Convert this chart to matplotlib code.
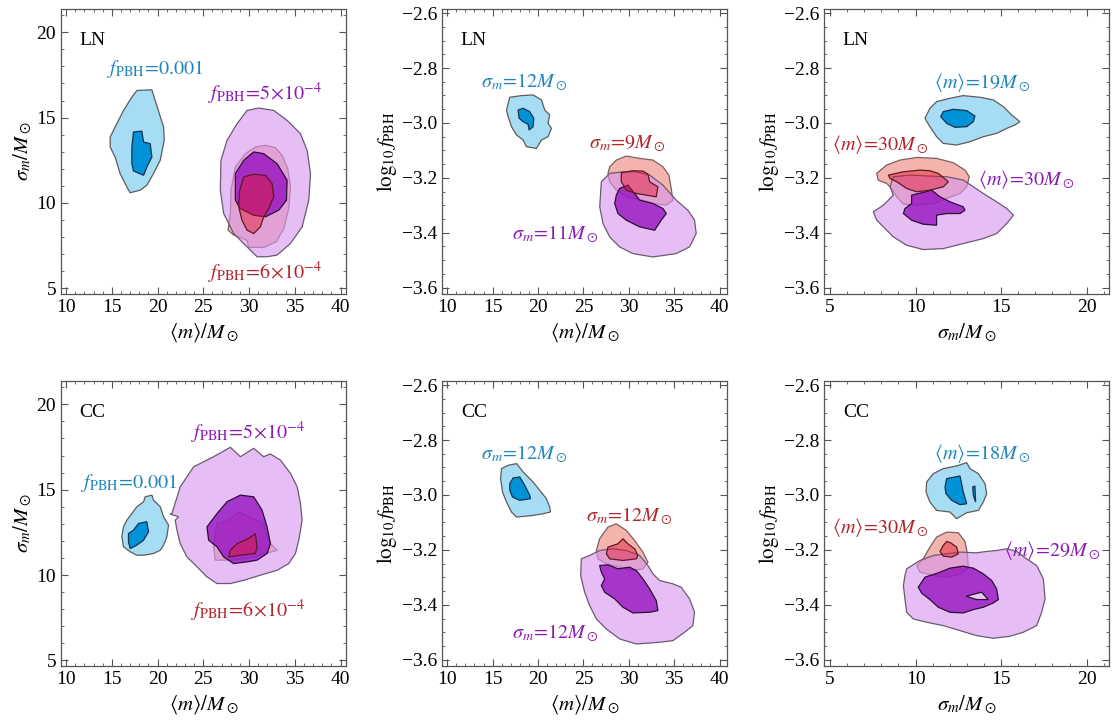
import matplotlib
matplotlib.use('Agg')
import matplotlib.pyplot as plt
from matplotlib.ticker import MultipleLocator

plt.rcParams['font.family'] = ['Liberation Serif', 'DejaVu Serif']
plt.rcParams['mathtext.fontset'] = 'stix'

# ---------------- data: credible-region outlines (x, y) ----------------
# LN, <m> vs sigma_m
LN_MS_blue_out = [(17.74,16.59),(19.38,16.63),(19.74,16.0),(20.66,14.45),(20.73,13.67),(20.29,12.5),(19.56,11.73),(18.83,11.04),(18.1,10.75),(17.0,10.6),(16.64,10.94),(15.91,11.72),(15.36,12.69),(14.82,13.28),(14.82,13.86),(15.36,14.45),(16.28,15.42),(17.19,16.2)]
LN_MS_blue_in = [(17.37,14.16),(18.28,14.21),(18.47,13.57),(19.2,13.47),(19.38,12.69),(18.83,12.11),(18.47,11.62),(17.37,11.88),(17.19,12.3),(17.19,13.28)]
LN_MS_red_out = [(31.79,13.38),(32.88,13.24),(33.61,12.79),(34.23,12.01),(34.53,10.94),(34.34,9.67),(33.8,8.51),(32.99,7.73),(31.6,7.4),(29.96,7.4),(29.78,7.82),(28.32,8.12),(27.7,8.41),(27.96,9.38),(28.03,10.75),(28.5,12.11),(29.6,12.89),(30.69,13.28)]
LN_MS_red_in = [(29.42,11.53),(30.51,11.68),(31.79,11.62),(32.52,11.14),(32.7,10.36),(32.15,9.67),(31.6,9.19),(31.24,8.6),(30.51,8.21),(29.78,8.41),(29.23,8.99),(28.87,9.77),(28.98,10.75)]
LN_MS_pur_out = [(29.78,15.42),(31.06,15.56),(32.7,15.42),(34.16,14.84),(35.62,14.06),(36.35,13.08),(36.72,11.72),(36.53,10.16),(35.8,8.6),(34.53,7.63),(33.07,6.95),(31.97,6.85),(30.88,6.85),(29.78,7.43),(28.32,8.21),(27.23,9.38),(26.86,10.75),(26.93,12.5),(27.59,13.67),(28.69,14.64)]
LN_MS_pur_in = [(29.42,12.5),(30.51,12.99),(31.6,12.89),(33.07,12.3),(34.16,11.33),(34.09,10.16),(33.25,9.58),(31.79,9.19),(30.51,9.28),(29.05,9.67),(28.5,10.16),(28.5,11.72)]

# LN, <m> vs log10 f
LN_MF_blue_out = [(16.89,-2.9066),(18.18,-2.9005),(19.46,-2.898),(20.38,-2.9163),(20.74,-2.9528),(21.29,-2.971),(21.11,-3.0015),(21.48,-3.0197),(21.11,-3.05),(20.38,-3.0623),(19.83,-3.0927),(18.73,-3.0866),(18.36,-3.0623),(17.63,-3.044),(17.08,-3.0136),(16.71,-2.9771),(16.53,-2.9528)]
LN_MF_blue_in = [(17.81,-2.9528),(18.36,-2.9467),(19.09,-2.9589),(19.53,-2.9832),(19.46,-3.0136),(19.02,-3.0258),(18.91,-3.0051),(18.36,-2.9954),(17.92,-2.9832)]
LN_MF_red_out = [(27.9,-3.1596),(28.63,-3.1353),(29.73,-3.1207),(31.2,-3.1292),(32.66,-3.1353),(33.76,-3.1596),(34.42,-3.19),(34.68,-3.2387),(34.86,-3.2813),(34.13,-3.2995),(32.66,-3.2934),(31.56,-3.2813),(29.73,-3.2691),(28.63,-3.2448),(27.9,-3.2143),(27.71,-3.1839)]
LN_MF_red_in = [(29.18,-3.1815),(30.46,-3.1742),(31.56,-3.1754),(32.11,-3.1864),(32.3,-3.2143),(33.21,-3.2326),(33.03,-3.2691),(31.93,-3.263),(30.83,-3.2569),(29.73,-3.2448),(29.18,-3.2143)]
LN_MF_pur_out = [(26.98,-3.2143),(27.9,-3.1839),(29.36,-3.1779),(30.83,-3.1779),(32.3,-3.19),(33.76,-3.2265),(35.23,-3.2813),(36.51,-3.3178),(37.25,-3.3543),(37.43,-3.4029),(36.7,-3.4516),(35.23,-3.4759),(32.66,-3.4881),(30.46,-3.4759),(28.99,-3.4516),(27.9,-3.4151),(27.16,-3.3664),(26.8,-3.3056)]
LN_MF_pur_in = [(28.99,-3.2387),(29.91,-3.2265),(30.65,-3.2569),(31.2,-3.2813),(32.66,-3.2934),(33.76,-3.3117),(34.13,-3.33),(33.58,-3.3543),(32.85,-3.3908),(31.2,-3.3786),(29.73,-3.3543),(28.81,-3.33),(28.45,-3.2934),(28.63,-3.263)]

# LN, sigma_m vs log10 f
LN_SF_blue_out = [(10.84,-2.9467),(11.23,-2.9224),(12.01,-2.9102),(12.79,-2.9005),(13.77,-2.9066),(14.55,-2.9163),(15.13,-2.9406),(15.62,-2.9711),(16.1,-2.9954),(15.81,-3.0076),(15.33,-3.0197),(14.74,-3.038),(13.96,-3.0501),(13.18,-3.0684),(12.4,-3.0805),(11.62,-3.0745),(11.23,-3.0501),(10.84,-3.0136),(10.55,-2.9832)]
LN_SF_blue_in = [(11.62,-2.9589),(12.21,-2.9504),(12.99,-2.9552),(13.47,-2.9747),(13.38,-2.9954),(12.99,-3.0136),(12.31,-3.0161),(11.82,-3.0015),(11.47,-2.9771)]
LN_SF_red_out = [(7.73,-3.1839),(8.31,-3.1535),(9.09,-3.1353),(10.07,-3.1256),(11.23,-3.1292),(12.21,-3.145),(12.89,-3.1718),(13.14,-3.1961),(12.99,-3.2326),(12.6,-3.2569),(11.82,-3.2752),(11.04,-3.2934),(10.07,-3.2995),(9.29,-3.2959),(8.9,-3.2691),(8.6,-3.2387),(8.31,-3.2204),(7.82,-3.2083)]
LN_SF_red_in = [(8.41,-3.19),(9.29,-3.1779),(10.26,-3.1718),(10.84,-3.1742),(11.33,-3.1839),(11.92,-3.2143),(11.62,-3.2326),(10.84,-3.2448),(10.07,-3.2509),(9.48,-3.2387),(8.9,-3.2143),(8.51,-3.2022)]
LN_SF_pur_out = [(7.53,-3.3239),(8.12,-3.2995),(8.7,-3.263),(8.51,-3.2326),(8.7,-3.1961),(9.68,-3.19),(10.84,-3.1937),(11.82,-3.1961),(12.79,-3.2083),(13.96,-3.2569),(14.74,-3.2873),(15.33,-3.3117),(15.72,-3.336),(15.33,-3.3664),(14.74,-3.4029),(13.96,-3.4212),(12.79,-3.4394),(11.62,-3.4577),(10.45,-3.4613),(9.48,-3.4455),(8.7,-3.4151),(8.12,-3.3786),(7.73,-3.3543)]
LN_SF_pur_in = [(9.77,-3.263),(10.36,-3.2545),(10.94,-3.2448),(11.43,-3.2691),(12.01,-3.2873),(12.79,-3.3056),(12.89,-3.3178),(12.6,-3.33),(11.82,-3.33),(11.23,-3.336),(11.23,-3.3725),(10.45,-3.3689),(9.77,-3.3543),(9.29,-3.33),(9.38,-3.3117),(9.77,-3.2934)]

# CC, <m> vs sigma_m
CC_MS_blue_out = [(18.65,14.58),(19.38,14.68),(19.56,14.39),(19.93,14.19),(20.29,14.0),(20.66,13.41),(21.2,12.92),(21.02,12.24),(20.66,11.75),(20.29,11.45),(19.56,11.26),(18.47,11.16),(17.74,11.16),(17.01,11.36),(16.28,11.65),(16.09,12.24),(16.28,12.82),(16.64,13.21),(17.19,13.6),(17.74,14.0),(18.47,14.29)]
CC_MS_blue_in = [(17.92,13.02),(18.83,13.12),(19.01,12.53),(18.47,12.04),(17.74,11.75),(17.01,11.55),(16.82,11.94),(16.82,12.43),(17.37,12.63)]
CC_MS_red_out = [(26.5,13.02),(27.77,13.21),(28.87,13.7),(29.96,13.41),(31.6,13.02),(32.15,11.94),(33.07,11.45),(30.51,11.06),(28.32,10.87),(26.31,10.87),(26.13,11.65),(26.31,12.43)]
CC_MS_red_in = [(27.96,11.45),(28.69,11.84),(29.96,12.14),(30.69,12.43),(30.88,11.65),(30.69,11.26),(29.05,11.16),(27.77,11.06)]
CC_MS_pur_out = [(21.57,13.6),(22.48,15.17),(23.94,16.34),(26.13,16.93),(27.96,17.48),(29.05,16.93),(30.51,17.42),(31.6,16.93),(32.34,17.09),(33.43,16.73),(34.53,15.95),(35.26,15.17),(35.62,14.19),(35.8,13.21),(35.44,12.04),(35.07,11.26),(34.34,10.67),(33.07,10.28),(31.24,9.99),(29.42,9.69),(27.96,9.5),(26.5,9.5),(25.4,9.89),(24.31,10.48),(23.21,11.06),(22.48,11.84),(22.12,12.63),(21.93,13.21),(22.3,13.41),(21.39,13.57)]
CC_MS_pur_in = [(26.5,13.6),(27.59,14.29),(29.05,14.68),(30.51,14.58),(31.42,13.8),(31.97,12.82),(32.34,11.84),(31.97,11.26),(30.88,10.87),(29.78,10.77),(28.32,10.67),(27.23,11.06),(26.5,11.65),(25.58,12.04),(25.4,12.82),(25.95,13.21)]

# CC, <m> vs log10 f
CC_MF_blue_out = [(15.98,-2.9041),(16.71,-2.892),(17.63,-2.8859),(18.36,-2.9163),(19.46,-2.9528),(20.19,-2.9832),(20.93,-3.0136),(21.29,-3.044),(21.37,-3.0623),(20.56,-3.0684),(19.46,-3.0745),(17.63,-3.0805),(17.08,-3.0623),(16.53,-3.0258),(16.09,-2.9893),(15.87,-2.9406)]
CC_MF_blue_in = [(17.26,-2.9382),(17.99,-2.9345),(18.54,-2.965),(19.09,-3.0015),(19.17,-3.0136),(17.99,-3.0197),(17.19,-3.0075),(16.89,-2.9832),(16.89,-2.9589)]
CC_MF_red_out = [(26.43,-3.2022),(26.79,-3.1596),(27.71,-3.117),(28.63,-3.1049),(29.73,-3.1292),(30.65,-3.1657),(31.56,-3.2083),(32.11,-3.2448),(31.56,-3.2691),(30.46,-3.2752),(29.0,-3.263),(27.53,-3.2509),(26.61,-3.2326)]
CC_MF_red_in = [(27.71,-3.19),(28.81,-3.1779),(29.36,-3.1596),(29.91,-3.1779),(30.65,-3.1961),(31.01,-3.2204),(30.83,-3.2326),(29.36,-3.2387),(27.9,-3.2326),(27.53,-3.2143)]
CC_MF_pur_out = [(24.78,-3.2326),(25.69,-3.2204),(26.79,-3.2022),(28.26,-3.1961),(29.73,-3.2022),(31.2,-3.2204),(32.11,-3.2569),(32.66,-3.2873),(33.4,-3.3117),(34.86,-3.3238),(35.78,-3.336),(36.7,-3.3786),(37.25,-3.4272),(37.06,-3.4759),(36.15,-3.5),(34.86,-3.5307),(33.4,-3.5367),(30.83,-3.5428),(29.0,-3.5246),(27.53,-3.4881),(26.43,-3.4516),(25.69,-3.4029),(25.14,-3.3543),(24.7,-3.2934)]
CC_MF_pur_in = [(26.79,-3.2569),(27.71,-3.2545),(28.81,-3.2691),(30.1,-3.263),(30.83,-3.2752),(31.56,-3.3056),(32.3,-3.3421),(33.03,-3.3847),(33.21,-3.4212),(32.3,-3.4272),(30.46,-3.4297),(29.36,-3.409),(28.45,-3.3786),(27.35,-3.3543),(26.98,-3.33),(27.35,-3.3056),(26.98,-3.2813)]

# CC, sigma_m vs log10 f
CC_SF_blue_out = [(10.65,-2.9528),(11.04,-2.9224),(11.62,-2.9041),(12.4,-2.8944),(12.99,-2.8822),(13.18,-2.9041),(13.67,-2.9224),(14.06,-2.9589),(14.16,-2.9954),(13.96,-3.0258),(13.67,-3.0562),(12.99,-3.0647),(12.4,-3.0866),(12.01,-3.0623),(11.23,-3.0562),(10.84,-3.0258),(10.61,-2.9893)]
CC_SF_blue_in = [(11.82,-2.9406),(12.6,-2.9309),(12.79,-2.9893),(12.99,-3.0319),(12.6,-3.0355),(12.11,-3.0197),(11.78,-2.9954),(11.72,-2.971)]
CC_SF_blue_in2 = [(13.34,-2.971),(13.47,-2.9674),(13.51,-3.0258),(13.38,-3.0015)]
CC_SF_red_out = [(10.84,-3.19),(11.23,-3.1535),(11.82,-3.1353),(12.5,-3.1377),(12.89,-3.1693),(13.03,-3.2143),(13.08,-3.263),(12.7,-3.2873),(11.82,-3.2995),(11.04,-3.2934),(10.26,-3.2813),(10.07,-3.2569),(10.45,-3.2326)]
CC_SF_red_in = [(11.62,-3.1839),(11.82,-3.1693),(12.05,-3.1742),(12.4,-3.19),(12.5,-3.2143),(12.11,-3.2265),(11.62,-3.2229),(11.43,-3.2058)]
CC_SF_pur_out = [(9.48,-3.2691),(10.26,-3.2387),(11.04,-3.2204),(11.82,-3.2143),(12.6,-3.2083),(13.57,-3.2107),(14.16,-3.2058),(14.74,-3.2022),(15.33,-3.1961),(15.91,-3.2058),(16.49,-3.2326),(17.08,-3.2569),(17.47,-3.3056),(17.57,-3.3786),(17.37,-3.4272),(17.08,-3.4759),(16.3,-3.5),(15.52,-3.5148),(14.55,-3.5221),(13.57,-3.5124),(12.6,-3.4942),(11.62,-3.4759),(10.65,-3.4637),(9.87,-3.4516),(9.48,-3.4272),(9.38,-3.3786),(9.29,-3.33),(9.38,-3.2934)]
CC_SF_pur_in = [(10.16,-3.336),(10.55,-3.2995),(11.33,-3.2837),(12.01,-3.2667),(12.79,-3.2594),(13.38,-3.2667),(13.96,-3.2873),(14.45,-3.3117),(14.74,-3.3421),(14.84,-3.381),(14.55,-3.3932),(13.96,-3.409),(13.38,-3.4175),(12.79,-3.4297),(12.01,-3.4273),(11.33,-3.409),(10.84,-3.381),(10.36,-3.3579)]
CC_SF_pur_hole = [(12.95,-3.3689),(13.86,-3.3543),(14.25,-3.381),(13.57,-3.381)]

# label texts, data positions and series (b=blue, r=red, p=purple)
panel_tags = ['LN', 'LN', 'LN', 'CC', 'CC', 'CC']
LN_MS_labels = [(r'$f_{\rm PBH}\!=\!0.001$', 19.8, 17.82, 'b'), (r'$f_{\rm PBH}\!=\!5\!\times\!10^{-4}$', 31.8, 16.4, 'p'), (r'$f_{\rm PBH}\!=\!6\!\times\!10^{-4}$', 31.8, 5.93, 'r')]
LN_MF_labels = [(r'$\sigma_m\!=\!12M_\odot$', 18.54, -2.853, 'b'), (r'$\sigma_m\!=\!9M_\odot$', 29.8, -3.077, 'r'), (r'$\sigma_m\!=\!11M_\odot$', 21.95, -3.405, 'p')]
LN_SF_labels = [(r'$\langle m\rangle\!=\!19M_\odot$', 13.9, -2.852, 'b'), (r'$\langle m\rangle\!=\!30M_\odot$', 7.92, -3.08, 'r'), (r'$\langle m\rangle\!=\!30M_\odot$', 16.44, -3.205, 'p')]
CC_MS_labels = [(r'$f_{\rm PBH}\!=\!0.001$', 16.93, 15.4, 'b'), (r'$f_{\rm PBH}\!=\!5\!\times\!10^{-4}$', 29.85, 18.34, 'p'), (r'$f_{\rm PBH}\!=\!6\!\times\!10^{-4}$', 29.85, 7.9, 'r')]
CC_MF_labels = [(r'$\sigma_m\!=\!12M_\odot$', 18.54, -2.853, 'b'), (r'$\sigma_m\!=\!12M_\odot$', 30.02, -3.077, 'r'), (r'$\sigma_m\!=\!12M_\odot$', 21.95, -3.503, 'p')]
CC_SF_labels = [(r'$\langle m\rangle\!=\!18M_\odot$', 13.9, -2.849, 'b'), (r'$\langle m\rangle\!=\!30M_\odot$', 7.92, -3.117, 'r'), (r'$\langle m\rangle\!=\!29M_\odot$', 17.96, -3.202, 'p')]

# ---------------- style ----------------
C_BLUE_L, C_BLUE_D = '#a6dcf4', '#0092d6'
C_RED_L, C_RED_D = '#f4b4ad', '#e3142c'
C_PUR_L, C_PUR_D = '#d796ef', '#8e00bd'
T_COLORS = {'b': '#1f86b9', 'r': '#b0262c', 'p': '#8a1cb4'}
EDGE = '#5c5c5c'

fig = plt.figure(figsize=(11.14, 7.2), dpi=100)
lefts = [0.0548, 0.397, 0.740]
bottoms = [0.5917, 0.075]
W, H = 0.2554, 0.3962

xlab_m = r'$\langle m\rangle/M_\odot$'
xlab_s = r'$\sigma_m/M_\odot$'
ylab_s = r'$\sigma_m/M_\odot$'
ylab_f = r'$\log_{10} f_{\rm PBH}$'

panels = [
    (LN_MS_blue_out, [LN_MS_blue_in], LN_MS_red_out, LN_MS_red_in, LN_MS_pur_out, LN_MS_pur_in, None, LN_MS_labels, 'ms'),
    (LN_MF_blue_out, [LN_MF_blue_in], LN_MF_red_out, LN_MF_red_in, LN_MF_pur_out, LN_MF_pur_in, None, LN_MF_labels, 'mf'),
    (LN_SF_blue_out, [LN_SF_blue_in], LN_SF_red_out, LN_SF_red_in, LN_SF_pur_out, LN_SF_pur_in, None, LN_SF_labels, 'sf'),
    (CC_MS_blue_out, [CC_MS_blue_in], CC_MS_red_out, CC_MS_red_in, CC_MS_pur_out, CC_MS_pur_in, None, CC_MS_labels, 'ms'),
    (CC_MF_blue_out, [CC_MF_blue_in], CC_MF_red_out, CC_MF_red_in, CC_MF_pur_out, CC_MF_pur_in, None, CC_MF_labels, 'mf'),
    (CC_SF_blue_out, [CC_SF_blue_in, CC_SF_blue_in2], CC_SF_red_out, CC_SF_red_in, CC_SF_pur_out, CC_SF_pur_in, CC_SF_pur_hole, CC_SF_labels, 'sf'),
]


def fill(ax, pts, fc, ec, alpha=1.0, lw=0.9, z=1):
    xs = [p[0] for p in pts]
    ys = [p[1] for p in pts]
    ax.fill(xs, ys, facecolor=fc, alpha=alpha, edgecolor='none', zorder=z)
    ax.fill(xs, ys, facecolor='none', edgecolor=ec, lw=lw, zorder=z + 0.01)


for i, (bo, bis, ro, ri, po, pi, hole, labels, kind) in enumerate(panels):
    r, c = divmod(i, 3)
    ax = fig.add_axes([lefts[c], bottoms[r], W, H])
    fill(ax, bo, C_BLUE_L, EDGE, z=1)
    for bi in bis:
        fill(ax, bi, C_BLUE_D, '#16334f', z=2)
    fill(ax, ro, C_RED_L, '#7a6060', z=3)
    fill(ax, po, C_PUR_L, '#6a5a70', alpha=0.62, z=4)
    fill(ax, pi, C_PUR_D, '#2a1030', alpha=0.72, z=5)
    if hole is not None:
        fill(ax, hole, '#e9c8f7', '#2a1030', z=5.5)
    fill(ax, ri, C_RED_D, '#5a1a20', alpha=0.45, z=6)

    for txt, x, y, key in labels:
        ax.text(x, y, txt, color=T_COLORS[key], fontsize=14.5, ha='center', va='center', zorder=10)
    ax.text(0.065, 0.89, panel_tags[i], transform=ax.transAxes, fontsize=14,
            ha='left', va='center', zorder=10)

    if kind == 'ms':
        ax.set_xlim(9.45, 40.55)
        ax.set_ylim(4.67, 21.38)
        ax.xaxis.set_major_locator(MultipleLocator(5))
        ax.xaxis.set_minor_locator(MultipleLocator(1))
        ax.yaxis.set_major_locator(MultipleLocator(5))
        ax.yaxis.set_minor_locator(MultipleLocator(1))
        ax.set_xlabel(xlab_m, fontsize=15)
        ax.set_ylabel(ylab_s, fontsize=15, labelpad=2)
    elif kind == 'mf':
        ax.set_xlim(9.45, 40.8)
        ax.set_ylim(-3.623, -2.584)
        ax.xaxis.set_major_locator(MultipleLocator(5))
        ax.xaxis.set_minor_locator(MultipleLocator(1))
        ax.yaxis.set_major_locator(MultipleLocator(0.2))
        ax.yaxis.set_minor_locator(MultipleLocator(0.05))
        ax.set_xlabel(xlab_m, fontsize=15)
        ax.set_ylabel(ylab_f, fontsize=15, labelpad=2)
    else:
        ax.set_xlim(4.67, 21.3)
        ax.set_ylim(-3.623, -2.584)
        ax.xaxis.set_major_locator(MultipleLocator(5))
        ax.xaxis.set_minor_locator(MultipleLocator(1))
        ax.yaxis.set_major_locator(MultipleLocator(0.2))
        ax.yaxis.set_minor_locator(MultipleLocator(0.05))
        ax.set_xlabel(xlab_s, fontsize=15)
        ax.set_ylabel(ylab_f, fontsize=15, labelpad=2)
    if kind != 'ms':
        ax.yaxis.set_major_formatter(plt.FuncFormatter(lambda v, p: '\u2212%.1f' % abs(v) if v < 0 else '%.1f' % v))

    ax.tick_params(which='both', direction='in', top=True, right=True, colors='#555555',
                   labelcolor='black', labelsize=14)
    ax.tick_params(which='major', length=5, width=0.8)
    ax.tick_params(which='minor', length=2.5, width=0.6)
    for s in ax.spines.values():
        s.set_color('#555555')
        s.set_linewidth(0.9)

fig.savefig('out.png', dpi=100)
